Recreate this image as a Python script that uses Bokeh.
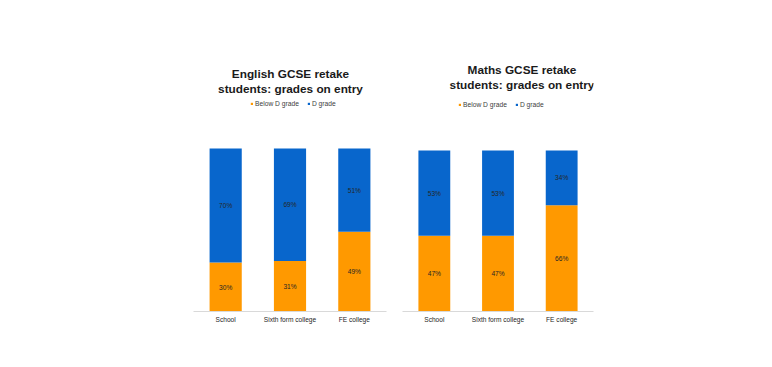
from bokeh.plotting import figure
from bokeh.models import ColumnDataSource, LabelSet, Label, Legend, LegendItem, FactorRange
from bokeh.core.properties import value
from bokeh.layouts import row
from bokeh.embed import file_html
from bokeh.resources import INLINE

categories = ["School", "Sixth form college", "FE college"]
series_names = ["Below D grade", "D grade"]
english_below_d = [30, 31, 49]
english_d_grade = [70, 69, 51]
maths_below_d = [47, 47, 66]
maths_d_grade = [53, 53, 34]
english_title = ["English GCSE retake", "students: grades on entry"]
maths_title = ["Maths GCSE retake", "students: grades on entry"]

ORANGE = "#FF9900"
BLUE = "#0866CC"
FONT = "Liberation Sans"


def make_chart(title_lines, below, dgrade, width, b_left, b_right, y_end,
               title_x, title_ys, legend_xy):
    p = figure(x_range=FactorRange(*categories), y_range=(0, y_end),
               width=width, height=359, output_backend="svg",
               toolbar_location=None, title=None, y_axis_location=None,
               min_border_left=b_left, min_border_right=b_right,
               min_border_top=8, min_border_bottom=48)
    p.outline_line_color = None
    p.xgrid.grid_line_color = None
    p.ygrid.grid_line_color = None
    p.background_fill_color = None
    p.border_fill_color = None

    src = ColumnDataSource(dict(
        cat=categories,
        below=[v / 100 for v in below],
        dgrade=[v / 100 for v in dgrade],
        below_mid=[v / 200 for v in below],
        d_mid=[b / 100 + d / 200 for b, d in zip(below, dgrade)],
        below_lbl=[f"{v}%" for v in below],
        d_lbl=[f"{v}%" for v in dgrade],
    ))
    rs = p.vbar_stack(["below", "dgrade"], x="cat", width=0.5, source=src,
                      color=[ORANGE, BLUE], line_color=None)

    for ycol, tcol in (("below_mid", "below_lbl"), ("d_mid", "d_lbl")):
        p.add_layout(LabelSet(x="cat", y=ycol, text=tcol, source=src,
                              text_align="center", text_baseline="middle",
                              text_font=value(FONT), text_font_size=value("6.6px"),
                              text_color="#262626"))

    ax = p.xaxis[0]
    ax.axis_line_color = "#D9D9D9"
    ax.axis_line_width = 1
    ax.major_tick_line_color = None
    ax.minor_tick_line_color = None
    ax.major_tick_out = 0
    ax.major_tick_in = 0
    ax.minor_tick_out = 0
    ax.major_label_text_font = FONT
    ax.major_label_text_font_size = "6.6px"
    ax.major_label_text_color = "#262626"
    ax.major_label_standoff = 4

    for txt, ty in zip(title_lines, title_ys):
        p.add_layout(Label(x=title_x, y=ty, x_units="screen", y_units="screen",
                           text=txt, text_align="center", text_baseline="middle",
                           text_font=FONT, text_font_size="11.8px",
                           text_font_style="bold", text_color="#1a1a1a"))

    legend = Legend(items=[LegendItem(label=n, renderers=[r])
                           for n, r in zip(series_names, rs)],
                    location=legend_xy, orientation="horizontal",
                    padding=0, margin=0, spacing=8, label_standoff=2,
                    glyph_width=3, glyph_height=3, label_height=8,
                    label_width=10,
                    label_text_font=FONT, label_text_font_size="6.7px",
                    label_text_color="#404040",
                    border_line_color=None, background_fill_alpha=0)
    p.add_layout(legend, "center")
    return p


left = make_chart(english_title, english_below_d, english_d_grade,
                  width=395, b_left=193, b_right=9, y_end=303 / 163,
                  title_x=97, title_ys=[238, 223], legend_xy=(57, 204))
right = make_chart(maths_title, maths_below_d, maths_d_grade,
                   width=369, b_left=7, b_right=171, y_end=303 / 161,
                   title_x=119.5, title_ys=[241.5, 227], legend_xy=(56, 203))

layout = row(left, right)
open("out.html", "w").write(file_html(layout, INLINE))
